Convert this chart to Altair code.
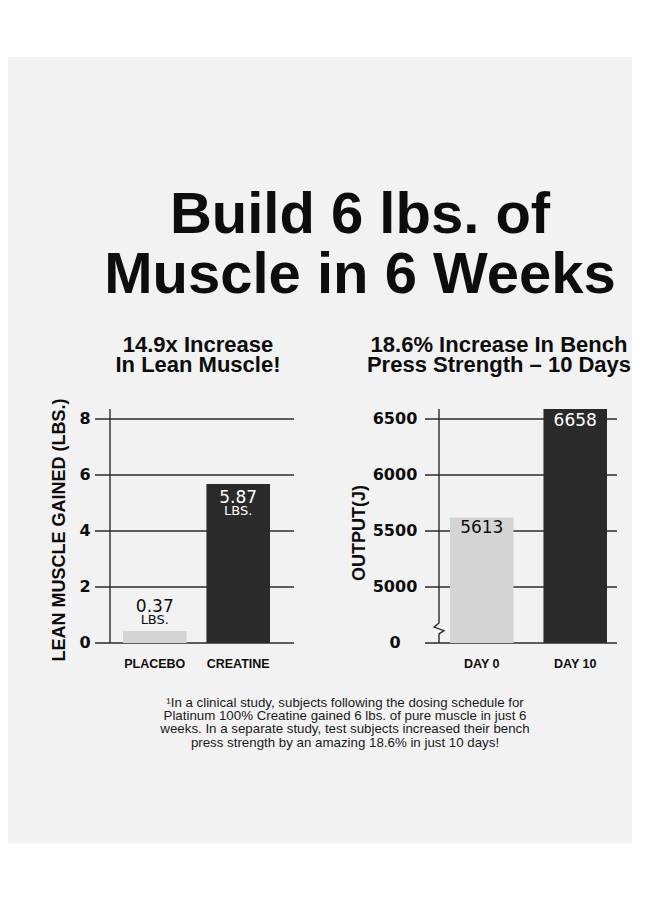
import altair as alt
import pandas as pd

# ---------------- data ----------------
left_categories = ["PLACEBO", "CREATINE"]
left_values = [0.43, 5.68]            # bar heights as drawn
left_value_labels = ["0.37", "5.87"]  # printed labels
left_ticks = [0, 2, 4, 6, 8]
left_tick_labels = ["0", "2", "4", "6", "8"]

right_categories = ["DAY 0", "DAY 10"]
right_values = [5620, 6589]
right_value_labels = ["5613", "6658"]
right_ticks = [4500, 5000, 5500, 6000, 6500]
right_tick_labels = ["0", "5000", "5500", "6000", "6500"]

title_lines = ["Build 6 lbs. of", "Muscle in 6 Weeks"]
left_subtitle = ["14.9x Increase", "In Lean Muscle!"]
right_subtitle = ["18.6% Increase In Bench", "Press Strength \u2013 10 Days"]
left_axis_title = "LEAN MUSCLE GAINED (LBS.)"
right_axis_title = "OUTPUT(J)"
unit_label = "LBS."
footnote_lines = [
    "\u00b9In a clinical study, subjects following the dosing schedule for",
    "Platinum 100% Creatine gained 6 lbs. of pure muscle in just 6",
    "weeks. In a separate study, test subjects increased their bench",
    "press strength by an amazing 18.6% in just 10 days!",
]

# ---------------- styling ----------------
LIGHT = "#d4d4d4"
DARK = "#2a2a2a"
LINE = "#2b2b2b"
INK = "#0d0d0d"
PANEL = "#f2f2f2"
SANS = "Liberation Sans"
WIDE = "DejaVu Sans"

one = pd.DataFrame({"k": [0]})

left_x = alt.Scale(type="band", domain=left_categories, range=[115, 262], paddingInner=0.238, paddingOuter=0)
left_y = alt.Scale(domain=[0, 8.357], range=[635, 401], zero=False, nice=False)
right_x = alt.Scale(type="band", domain=right_categories, range=[442, 599], paddingInner=0.32, paddingOuter=0)
right_y = alt.Scale(domain=[4500, 6589], range=[635, 401], zero=False, nice=False)
left_color = alt.Scale(domain=left_categories, range=[LIGHT, DARK])
right_color = alt.Scale(domain=right_categories, range=[LIGHT, DARK])


def txt(s, x, y, size, weight="normal", font=SANS, color=INK, align="center",
        baseline="alphabetic", angle=0):
    return alt.Chart(one).mark_text(
        text=s, fontSize=size, fontWeight=weight, font=font, color=color,
        align=align, baseline=baseline, angle=angle,
    ).encode(x=alt.value(x), y=alt.value(y))


layers = []

# panel background
layers.append(alt.Chart(one).mark_rect(color=PANEL).encode(
    x=alt.value(0), x2=alt.value(624), y=alt.value(49), y2=alt.value(835)))

# main title
layers.append(txt(title_lines[0], 352, 225, 58, "bold"))
layers.append(txt(title_lines[1], 352, 285, 58, "bold"))

# subtitles
layers.append(txt(left_subtitle[0], 190, 344, 22, "bold"))
layers.append(txt(left_subtitle[1], 190, 364, 22, "bold"))
layers.append(txt(right_subtitle[0], 491, 344, 22, "bold"))
layers.append(txt(right_subtitle[1], 491, 364, 22, "bold"))

# ---------- left chart ----------
lt = pd.DataFrame({"t": left_ticks, "lab": left_tick_labels})
layers.append(alt.Chart(lt).mark_rule(color=LINE, strokeWidth=1.4).encode(
    y=alt.Y("t:Q", scale=left_y, axis=None), x=alt.value(87), x2=alt.value(286)))

ldf = pd.DataFrame({"cat": left_categories, "val": left_values, "lab": left_value_labels})
layers.append(alt.Chart(ldf).mark_bar().encode(
    x=alt.X("cat:N", scale=left_x, axis=None),
    y=alt.Y("val:Q", scale=left_y, axis=None),
    y2=alt.Y2Datum(0),
    color=alt.Color("cat:N", scale=left_color, legend=None),
))
layers.append(alt.Chart(one).mark_rule(color=LINE, strokeWidth=1.4).encode(
    x=alt.value(102), y=alt.YDatum(0, scale=left_y, axis=None), y2=alt.Y2Datum(8.357)))
layers.append(alt.Chart(lt).mark_text(font=WIDE, fontWeight="bold", fontSize=16, color=INK,
                                      align="center", baseline="middle").encode(
    y=alt.Y("t:Q", scale=left_y, axis=None), x=alt.value(77), text="lab:N"))
layers.append(alt.Chart(ldf).mark_text(font=SANS, fontWeight="bold", fontSize=12.5, color=INK,
                                       align="center", baseline="alphabetic").encode(
    x=alt.X("cat:N", scale=left_x, axis=None), y=alt.value(660), text="cat:N"))

# value labels left
ld0 = ldf.iloc[[0]]
ld1 = ldf.iloc[[1]]
layers.append(alt.Chart(ld0).mark_text(font=WIDE, fontSize=17, color=INK, dy=-19,
                                       align="center", baseline="alphabetic").encode(
    x=alt.X("cat:N", scale=left_x, axis=None), y=alt.Y("val:Q", scale=left_y, axis=None), text="lab:N"))
layers.append(alt.Chart(ld0).mark_text(font=WIDE, fontSize=13, color=INK, dy=-7, text=unit_label,
                                       align="center", baseline="alphabetic").encode(
    x=alt.X("cat:N", scale=left_x, axis=None), y=alt.Y("val:Q", scale=left_y, axis=None)))
layers.append(alt.Chart(ld1).mark_text(font=WIDE, fontSize=17, color="white", dy=19,
                                       align="center", baseline="alphabetic").encode(
    x=alt.X("cat:N", scale=left_x, axis=None), y=alt.Y("val:Q", scale=left_y, axis=None), text="lab:N"))
layers.append(alt.Chart(ld1).mark_text(font=WIDE, fontSize=13, color="white", dy=31, text=unit_label,
                                       align="center", baseline="alphabetic").encode(
    x=alt.X("cat:N", scale=left_x, axis=None), y=alt.Y("val:Q", scale=left_y, axis=None)))

layers.append(txt(left_axis_title, 52, 522, 18, "bold", angle=270, baseline="middle"))

# ---------- right chart ----------
rt = pd.DataFrame({"t": right_ticks, "lab": right_tick_labels})
layers.append(alt.Chart(rt).mark_rule(color=LINE, strokeWidth=1.4).encode(
    y=alt.Y("t:Q", scale=right_y, axis=None), x=alt.value(417), x2=alt.value(609)))

rdf = pd.DataFrame({"cat": right_categories, "val": right_values, "lab": right_value_labels})
layers.append(alt.Chart(rdf).mark_bar().encode(
    x=alt.X("cat:N", scale=right_x, axis=None),
    y=alt.Y("val:Q", scale=right_y, axis=None),
    y2=alt.Y2Datum(4500),
    color=alt.Color("cat:N", scale=right_color, legend=None),
))
BREAK = 4634
HALF = 80
layers.append(alt.Chart(one).mark_rule(color=LINE, strokeWidth=1.4).encode(
    x=alt.value(431), y=alt.YDatum(BREAK + HALF, scale=right_y, axis=None), y2=alt.Y2Datum(6589)))
layers.append(alt.Chart(one).mark_rule(color=LINE, strokeWidth=1.4).encode(
    x=alt.value(431), y=alt.YDatum(4500, scale=right_y, axis=None), y2=alt.Y2Datum(BREAK - HALF)))
layers.append(alt.Chart(one).mark_point(
    shape="M0,-1L0,-0.55L-0.55,-0.1L0.55,0.3L0,0.65L0,1",
    filled=False, stroke=LINE, strokeWidth=1.4, size=324, opacity=1,
).encode(x=alt.value(431), y=alt.YDatum(BREAK, scale=right_y, axis=None)))
layers.append(alt.Chart(rt).mark_text(font=WIDE, fontWeight="bold", fontSize=16, color=INK,
                                      align="center", baseline="middle").encode(
    y=alt.Y("t:Q", scale=right_y, axis=None), x=alt.value(387), text="lab:N"))
layers.append(alt.Chart(rdf).mark_text(font=SANS, fontWeight="bold", fontSize=12.5, color=INK,
                                       align="center", baseline="alphabetic").encode(
    x=alt.X("cat:N", scale=right_x, axis=None), y=alt.value(660), text="cat:N"))

rd0 = rdf.iloc[[0]]
rd1 = rdf.iloc[[1]]
layers.append(alt.Chart(rd0).mark_text(font=WIDE, fontSize=17, color=INK, dy=15,
                                       align="center", baseline="alphabetic").encode(
    x=alt.X("cat:N", scale=right_x, axis=None), y=alt.Y("val:Q", scale=right_y, axis=None), text="lab:N"))
layers.append(alt.Chart(rd1).mark_text(font=WIDE, fontSize=17, color="white", dy=17,
                                       align="center", baseline="alphabetic").encode(
    x=alt.X("cat:N", scale=right_x, axis=None), y=alt.Y("val:Q", scale=right_y, axis=None), text="lab:N"))

layers.append(txt(right_axis_title, 352, 525, 18, "bold", angle=270, baseline="middle"))

# ---------- footnote ----------
for i, line in enumerate(footnote_lines):
    layers.append(txt(line, 337, 699 + 13.2 * i, 13.3, "normal", color="#1a1a1a"))

chart = alt.layer(*layers).resolve_scale(
    x="independent", y="independent", color="independent"
).properties(
    width=630, height=850, padding=0,
    autosize=alt.AutoSizeParams(type="none"),
    background="white",
).configure_view(strokeWidth=0)

chart.save("out.html", embed_options={"renderer": "svg", "actions": False})
